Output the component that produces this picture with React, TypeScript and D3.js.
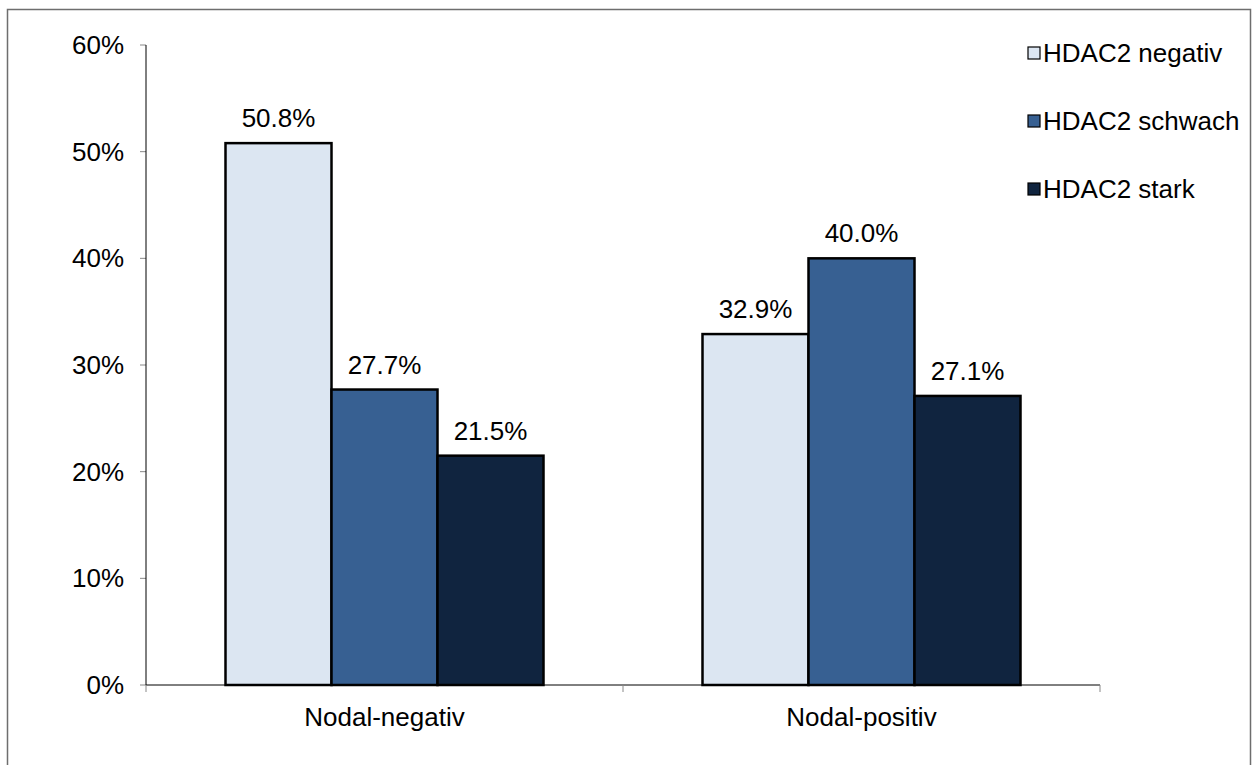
import React from "react";
import * as d3 from "d3";

const categories = ["Nodal-negativ", "Nodal-positiv"];
const seriesNames = ["HDAC2 negativ", "HDAC2 schwach", "HDAC2 stark"];
const negativValues = [50.8, 32.9];
const schwachValues = [27.7, 40.0];
const starkValues = [21.5, 27.1];
const yTicks = [0, 10, 20, 30, 40, 50, 60];
const seriesColors = ["#DCE6F2", "#376092", "#10243F"];

const W = 1253;
const H = 765;
const plot = { left: 146, right: 1100, top: 45, bottom: 685 };
const FONT = "'Liberation Sans', Arial, sans-serif";
const FS = 26;

export default function App() {
  const series = [negativValues, schwachValues, starkValues];
  const x0 = d3
    .scaleBand<string>()
    .domain(categories)
    .range([plot.left, plot.right])
    .paddingInner(0)
    .paddingOuter(0);
  // three bars per category, gap of 1.5 bar widths between groups
  const barW = x0.bandwidth() / 4.5;
  const y = d3.scaleLinear().domain([0, 60]).range([plot.bottom, plot.top]);

  const xTickPos = [plot.left, ...categories.map((c) => (x0(c) as number) + x0.bandwidth())];

  return (
    <svg
      width={W}
      height={H}
      style={{ position: "absolute", left: 0, top: 0, background: "#fff" }}
    >
      <rect x={7.5} y={9.5} width={1243} height={800} fill="#fff" stroke="#6e6e6e" strokeWidth={1.5} />

      {/* y axis ticks and labels */}
      {yTicks.map((t) => (
        <g key={t}>
          <line x1={plot.left - 6} x2={plot.left} y1={y(t)} y2={y(t)} stroke="#888" strokeWidth={1} />
          <text
            x={plot.left - 22}
            y={y(t)}
            dy="0.35em"
            textAnchor="end"
            fontFamily={FONT}
            fontSize={FS}
            fill="#000"
          >
            {t}%
          </text>
        </g>
      ))}

      {/* bars */}
      {categories.map((c, ci) => {
        const gx = (x0(c) as number) + (x0.bandwidth() - 3 * barW) / 2;
        return (
          <g key={c}>
            {series.map((vals, si) => {
              const bx = gx + si * barW;
              const v = vals[ci];
              return (
                <g key={si}>
                  <rect
                    x={bx}
                    y={y(v)}
                    width={barW}
                    height={y(0) - y(v)}
                    fill={seriesColors[si]}
                    stroke="#000"
                    strokeWidth={2.5}
                  />
                  <text
                    x={bx + barW / 2}
                    y={y(v) - 16}
                    textAnchor="middle"
                    fontFamily={FONT}
                    fontSize={FS}
                    fill="#000"
                  >
                    {v.toFixed(1)}%
                  </text>
                </g>
              );
            })}
          </g>
        );
      })}

      {/* axes */}
      <line x1={plot.left} x2={plot.left} y1={plot.top} y2={plot.bottom} stroke="#000" strokeWidth={1} />
      <line x1={plot.left} x2={plot.right} y1={plot.bottom} y2={plot.bottom} stroke="#000" strokeWidth={1} />
      {xTickPos.map((p, i) => (
        <line key={i} x1={p} x2={p} y1={plot.bottom} y2={plot.bottom + 7} stroke="#888" strokeWidth={1} />
      ))}
      {categories.map((c) => (
        <text
          key={c}
          x={(x0(c) as number) + x0.bandwidth() / 2}
          y={726}
          textAnchor="middle"
          fontFamily={FONT}
          fontSize={FS}
          fill="#000"
        >
          {c}
        </text>
      ))}

      {/* legend */}
      {seriesNames.map((n, i) => {
        const cy = 53 + i * 68;
        return (
          <g key={n}>
            <rect x={1028} y={cy - 6} width={12} height={12} fill={seriesColors[i]} stroke="#000" strokeWidth={1.2} />
            <text x={1043} y={cy} dy="0.35em" fontFamily={FONT} fontSize={FS} fill="#000">
              {n}
            </text>
          </g>
        );
      })}
    </svg>
  );
}
